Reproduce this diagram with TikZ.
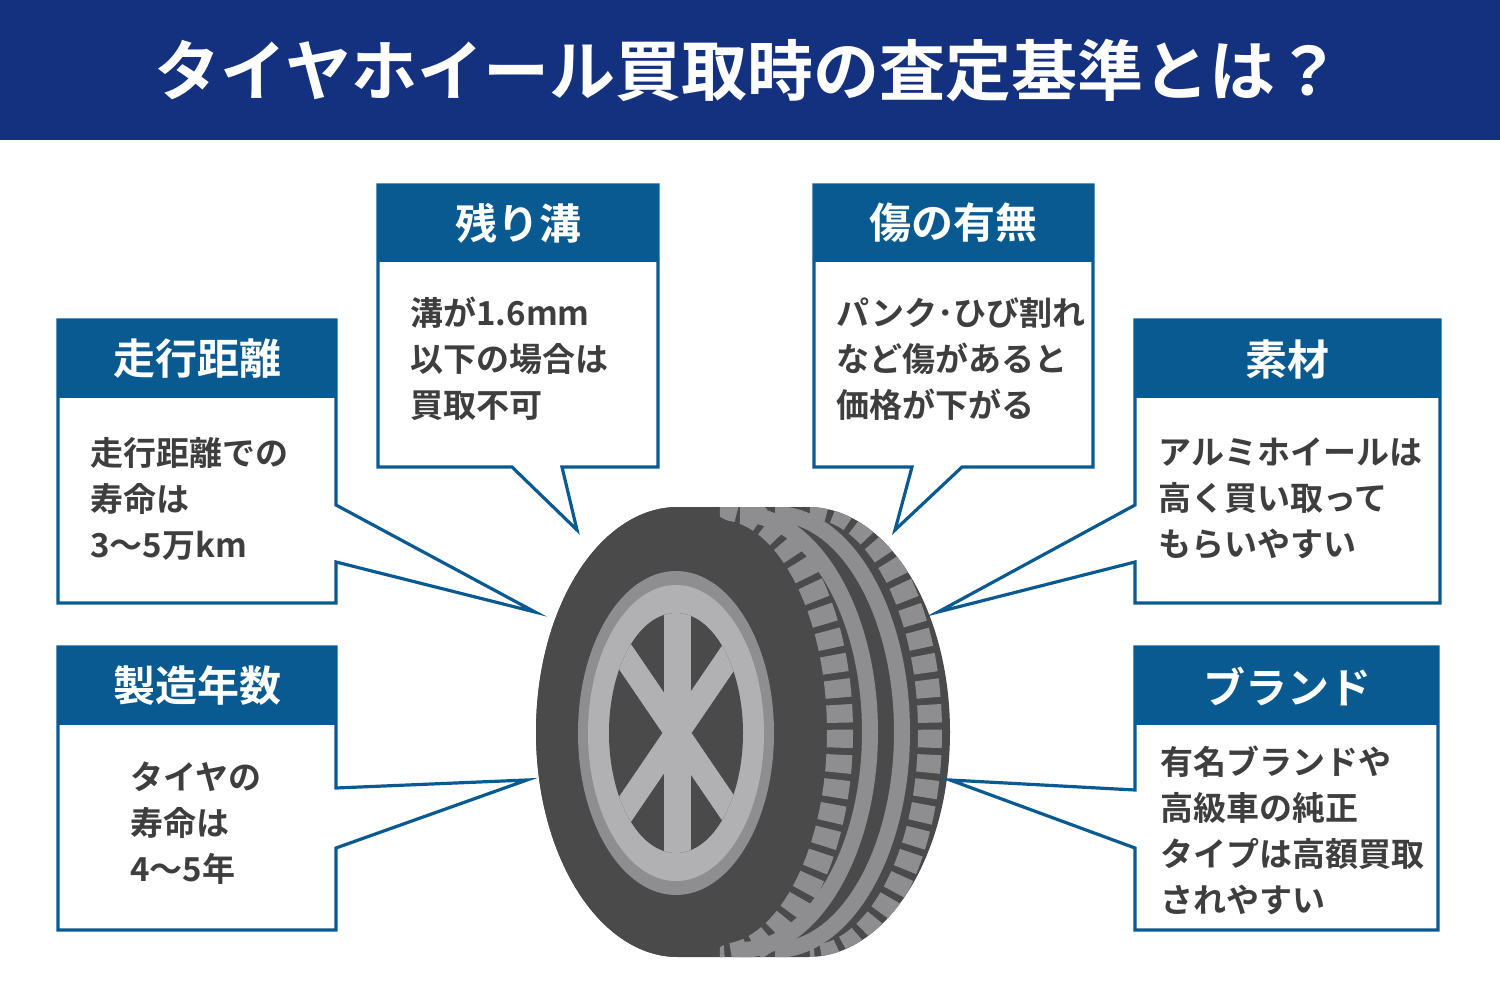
\documentclass[tikz,border=0pt]{standalone}
\usepackage{fontspec}
\newfontfamily\jpb{Noto Sans CJK JP Bold}
\definecolor{navy}{HTML}{14317F}
\definecolor{blu}{HTML}{0A5A92}
\definecolor{txt}{HTML}{3E3E3E}
\definecolor{dk}{HTML}{4A4A4A}
\definecolor{md}{HTML}{8E8E90}
\definecolor{lt}{HTML}{B1B1B3}
\begin{document}
\begin{tikzpicture}[x=0.5pt,y=-0.5pt,
 bub/.style={fill=white,draw=blu,line width=1.6pt,line join=miter},
 head/.style={fill=blu},
 htxt/.style={text=white,font=\jpb\fontsize{21}{24}\selectfont},
 btxt/.style={text=txt,font=\jpb\fontsize{16.5}{23}\selectfont,align=left,anchor=north west,inner sep=0pt}]
\useasboundingbox (0,0) rectangle (1500,1000);
\fill[navy] (0,0) rectangle (1500,140);
\node[text=white,font=\jpb\fontsize{33}{36}\selectfont] (title) at (748,70) {タイヤホイール買取時の査定基準とは？};
% tire
\begin{scope}
\path[clip] (678,507) -- (808,507) arc[start angle=-90,end angle=90,x radius=142,y radius=225] -- (678,957) arc[start angle=90,end angle=270,x radius=142,y radius=225] -- cycle;
\fill[dk] (500,500) rectangle (1000,960);
\draw[md,line width=13pt,dash pattern=on 9pt off 3.5pt] (720,507) arc[start angle=-90,end angle=90,x radius=120,y radius=225];
\draw[md,line width=8pt] (740,514) arc[start angle=-90,end angle=90,x radius=130,y radius=218];
\draw[md,line width=8pt] (775,514) arc[start angle=-90,end angle=90,x radius=127,y radius=218];
\draw[md,line width=12pt,dash pattern=on 9pt off 3.5pt] (810,507) arc[start angle=-90,end angle=90,x radius=120,y radius=225];
\fill[dk] (678,732) ellipse[x radius=142,y radius=225];
\end{scope}
\fill[md] (676,733) ellipse[x radius=98,y radius=162];
\fill[lt] (676,733) ellipse[x radius=88,y radius=148];
\begin{scope}
\clip (676,733) ellipse[x radius=67,y radius=120];
\fill[dk] (600,600) rectangle (760,860);
\draw[lt,line width=13.5pt] (677,600) -- (677,860);
\draw[lt,line width=12pt] (600,620) -- (754,846) (754,620) -- (600,846);
\end{scope}
% bubbles
\draw[bub] (58,320) -- (336,320) -- (336,505) -- (535,612) -- (336,562) -- (336,603) -- (58,603) -- cycle;
\fill[head] (58,320) rectangle (336,398);
\node[htxt] (h1) at (197,359) {走行距離};
\node[btxt] (t1) at (90,437) {走行距離での\\寿命は\\3〜5万km};

\draw[bub] (58,647) -- (336,647) -- (336,788) -- (527,780) -- (336,848) -- (336,930) -- (58,930) -- cycle;
\fill[head] (58,647) rectangle (336,725);
\node[htxt] (h2) at (197,686) {製造年数};
\node[btxt] (t2) at (130,761) {タイヤの\\寿命は\\4〜5年};

\draw[bub] (378,185) -- (658,185) -- (658,467) -- (562,467) -- (577,530) -- (512,467) -- (378,467) -- cycle;
\fill[head] (378,185) rectangle (658,262);
\node[htxt] (h3) at (518,223) {残り溝};
\node[btxt] (t3) at (410,297) {溝が1.6mm\\以下の場合は\\買取不可};

\draw[bub] (814,185) -- (1093,185) -- (1093,467) -- (962,467) -- (895,530) -- (912,467) -- (814,467) -- cycle;
\fill[head] (814,185) rectangle (1093,262);
\node[htxt] (h4) at (953,223) {傷の有無};
\node[btxt] (t4) at (836,297) {パンク･ひび割れ\\など傷があると\\価格が下がる};

\draw[bub] (1135,320) -- (1440,320) -- (1440,603) -- (1135,603) -- (1135,562) -- (938,612) -- (1135,505) -- cycle;
\fill[head] (1135,320) rectangle (1440,398);
\node[htxt] (h5) at (1287,359) {素材};
\node[btxt] (t5) at (1158,437) {アルミホイールは\\高く買い取って\\もらいやすい};

\draw[bub] (1135,647) -- (1438,647) -- (1438,930) -- (1135,930) -- (1135,848) -- (950,780) -- (1135,790) -- cycle;
\fill[head] (1135,647) rectangle (1438,725);
\node[htxt] (h6) at (1287,686) {ブランド};
\node[btxt] (t6) at (1160,745) {有名ブランドや\\高級車の純正\\タイプは高額買取\\されやすい};
\end{tikzpicture}
\end{document}
